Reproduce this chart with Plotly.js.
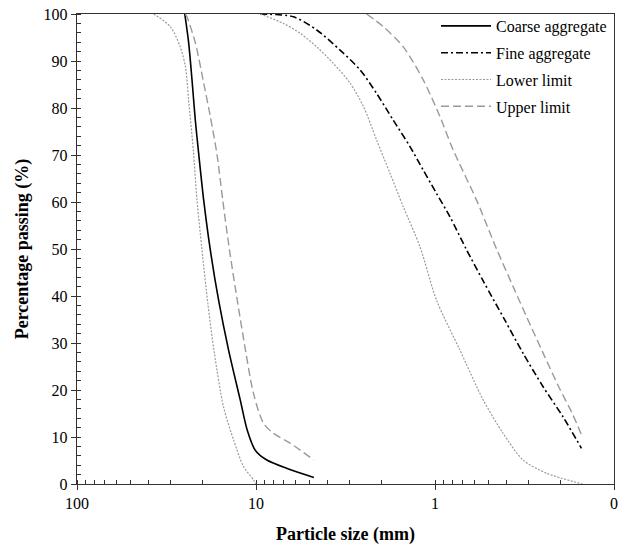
<!DOCTYPE html>
<html>
<head>
<meta charset="utf-8">
<script src="https://cdn.plot.ly/plotly-3.0.1.min.js"></script>
<style>html,body{margin:0;padding:0;background:#fff;}#chart{width:621px;height:549px;}</style>
</head>
<body>
<div id="chart"></div>
<script>
// Particle size (mm) and percentage passing
const coarseSize = [25, 23.8, 22.78, 21.84, 20.93, 19.6, 18.0, 16.18, 14.23, 12.25, 11.2, 10.1, 8.7, 6.7, 4.75];
const coarsePass = [100, 94, 86, 77.5, 70.5, 60.4, 49.8, 39.1, 28.5, 17.9, 11.5, 7.2, 5.1, 3.3, 1.4];

const fineSize = [9.5, 6.18, 4.58, 3.39, 2.62, 2.12, 1.71, 1.38, 1.164, 0.98, 0.826, 0.666, 0.538, 0.4076, 0.322, 0.249, 0.1928, 0.152];
const finePass = [100, 99.4, 96.6, 92.3, 88.1, 83.1, 77.4, 71.8, 66.8, 61.8, 56.9, 49.8, 43.2, 34.9, 27.8, 20.7, 14.3, 7.6];

const lowerCoarseSize = [37.3, 30.1, 26.5, 24.8, 23.8, 22.4, 21.36, 20.03, 18.59, 17.11, 15.18, 13.35, 11.74, 10.33, 10.0];
const lowerCoarsePass = [100, 97.3, 93, 88.8, 81.7, 71, 60.4, 49.8, 38.5, 28, 16.4, 9.4, 3.7, 0.9, 0];

const lowerFineSize = [9.48, 7.03, 5.67, 4.58, 3.7, 2.98, 2.51, 2.12, 1.784, 1.504, 1.214, 0.98, 0.726, 0.538, 0.4165, 0.322, 0.2385, 0.15];
const lowerFinePass = [100, 98, 95.9, 93, 89.5, 85.3, 80.3, 73.2, 66.1, 59, 50.5, 39.1, 28.5, 17.9, 10.8, 5.1, 2.3, 0];

const upperCoarseSize = [24.8, 24.3, 21.8, 19.6, 18.0, 16.5, 15.34, 14.07, 12.65, 11.37, 10.33, 9.08, 7.99, 6.45, 4.75];
const upperCoarsePass = [100, 99.4, 93.8, 85.3, 78.2, 70, 60.4, 49.8, 38.5, 27.8, 19.3, 12.9, 10.8, 8.7, 5.1];

const upperFineSize = [2.41, 1.945, 1.504, 1.164, 0.939, 0.792, 0.586, 0.453, 0.366, 0.3072, 0.25, 0.2037, 0.171, 0.1506];
const upperFinePass = [100, 97.3, 93, 86, 78.2, 71.1, 60.4, 50, 42, 35.5, 28, 20.7, 15, 10.1];

const xTickVals = [100, 10, 1, 0.1];
const xTickText = ["100", "10", "1", "0"];

const font = "Liberation Serif, Times New Roman, serif";
const grey = "#9a9a9a";
const sm = 0.8;

const traces = [
  {x: coarseSize, y: coarsePass, mode: "lines", name: "Coarse aggregate", legendgroup: "coarse",
   line: {color: "#000", width: 1.6, shape: "spline", smoothing: sm}},
  {x: fineSize, y: finePass, mode: "lines", name: "Fine aggregate", legendgroup: "fine",
   line: {color: "#000", width: 1.6, dash: "7px,3px,2px,3px", shape: "spline", smoothing: sm}},
  {x: lowerCoarseSize, y: lowerCoarsePass, mode: "lines", name: "Lower limit", legendgroup: "lower",
   line: {color: grey, width: 1.2, dash: "2px,1.5px", shape: "spline", smoothing: sm}},
  {x: lowerFineSize, y: lowerFinePass, mode: "lines", name: "Lower limit", legendgroup: "lower", showlegend: false,
   line: {color: grey, width: 1.2, dash: "2px,1.5px", shape: "spline", smoothing: sm}},
  {x: upperCoarseSize, y: upperCoarsePass, mode: "lines", name: "Upper limit", legendgroup: "upper",
   line: {color: grey, width: 1.4, dash: "8px,4px", shape: "spline", smoothing: sm}},
  {x: upperFineSize, y: upperFinePass, mode: "lines", name: "Upper limit", legendgroup: "upper", showlegend: false,
   line: {color: grey, width: 1.4, dash: "8px,4px", shape: "spline", smoothing: sm}},
  // empty trace so the inner-tick overlay axes are drawn
  {x: [], y: [], xaxis: "x2", yaxis: "y2", mode: "lines", showlegend: false, hoverinfo: "skip"}
];

const layout = {
  width: 621, height: 549,
  margin: {l: 76.5, r: 6.5, t: 14, b: 65},
  paper_bgcolor: "#fff", plot_bgcolor: "#fff",
  font: {family: font, size: 16, color: "#000"},
  showlegend: true,
  legend: {x: 0.9963, xanchor: "right", y: 1.0106, yanchor: "top", bgcolor: "rgba(0,0,0,0)",
           font: {family: font, size: 16, color: "#000"}, traceorder: "grouped", tracegroupgap: 3,
           itemwidth: 50},
  xaxis: {
    type: "log", range: [2, -1], tickmode: "array", tickvals: xTickVals, ticktext: xTickText,
    showgrid: false, zeroline: false, showline: true, linecolor: "#333", linewidth: 1.2,
    mirror: true, ticks: "outside", ticklen: 5, tickcolor: "#333",
    minor: {ticks: "inside", ticklen: 4, dtick: "D1", tickcolor: "#333", showgrid: false},
    tickfont: {family: font, size: 16},
    title: {text: "<b>Particle size (mm)</b>", font: {family: font, size: 18}, standoff: 16}
  },
  yaxis: {
    range: [0, 100], tickmode: "linear", tick0: 0, dtick: 10,
    showgrid: false, zeroline: false, showline: true, linecolor: "#333", linewidth: 1.2,
    mirror: true, ticks: "outside", ticklen: 5, tickcolor: "#333",
    minor: {ticks: "inside", ticklen: 4, dtick: 2, tickcolor: "#333", showgrid: false},
    tickfont: {family: font, size: 16},
    title: {text: "<b>Percentage passing (%)</b>", font: {family: font, size: 18}, standoff: 10}
  },
  xaxis2: {
    type: "log", range: [2, -1], overlaying: "x", anchor: "y2", side: "bottom",
    tickmode: "array", tickvals: [10, 1], showticklabels: false,
    showgrid: false, zeroline: false, showline: false, ticks: "inside", ticklen: 4, tickcolor: "#333"
  },
  yaxis2: {
    range: [0, 100], overlaying: "y", anchor: "x2", side: "left",
    tickmode: "linear", tick0: 0, dtick: 10, showticklabels: false,
    showgrid: false, zeroline: false, showline: false, ticks: "inside", ticklen: 4, tickcolor: "#333"
  }
};

Plotly.newPlot("chart", traces, layout, {displayModeBar: false, staticPlot: true});
</script>
</body>
</html>
